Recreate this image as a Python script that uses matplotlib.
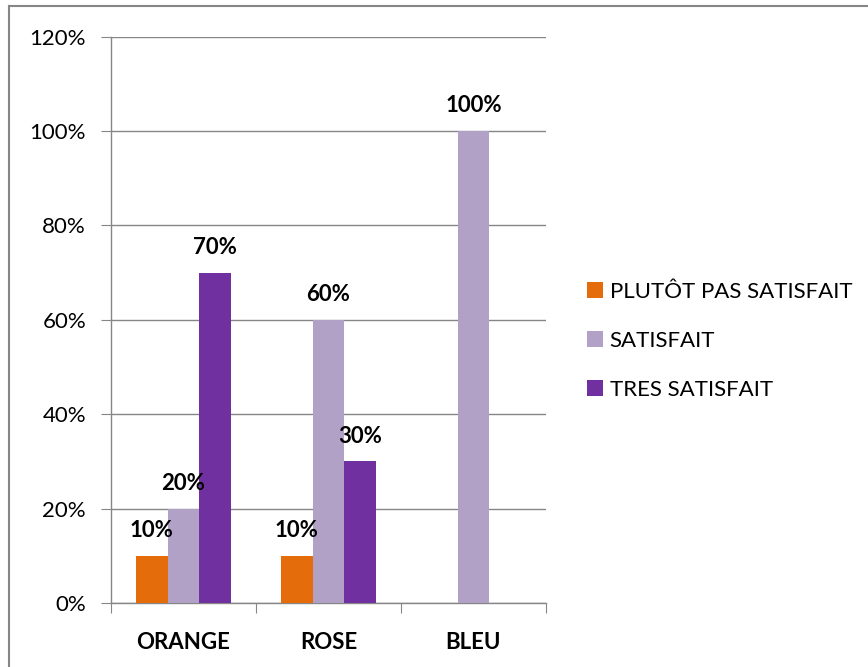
import numpy as np
import matplotlib
matplotlib.use("Agg")
from matplotlib import pyplot as plt
from matplotlib.lines import Line2D

# data
categories = ["ORANGE", "ROSE", "BLEU"]
series_names = ["PLUTÔT PAS SATISFAIT", "SATISFAIT", "TRES SATISFAIT"]
plutot_pas = [10, 10, 0]
satisfait = [20, 60, 100]
tres_satisfait = [70, 30, 0]
y_ticks = [0, 20, 40, 60, 80, 100, 120]

colors = ["#E46C0A", "#B2A1C7", "#7030A0"]
grid_col = "#868686"

plt.rcParams["font.family"] = ["Lato", "DejaVu Sans"]

fig = plt.figure(figsize=(8.68, 6.67), dpi=100)
ax = fig.add_axes([0.1279, 0.0960, 0.5011, 0.849])

# chart area border (only top and left visible in the crop)
fig.add_artist(Line2D([9 / 868, 1.0], [1 - 6 / 667, 1 - 6 / 667], transform=fig.transFigure,
                      color=grid_col, linewidth=1.5))
fig.add_artist(Line2D([9 / 868, 9 / 868], [0.0, 1 - 6 / 667], transform=fig.transFigure,
                      color=grid_col, linewidth=1.5))

x = np.arange(len(categories))
w = 0.22
all_series = [plutot_pas, satisfait, tres_satisfait]
for i, (vals, name) in enumerate(zip(all_series, series_names)):
    pos = x + (i - 1) * w
    ax.bar(pos, vals, width=w, color=colors[i], label=name, zorder=3)
    for p, v in zip(pos, vals):
        if v > 0:
            ax.text(p, v + 4, f"{v}%", ha="center", va="baseline",
                    fontsize=16, fontweight="bold", zorder=4)

ax.set_xlim(-0.5, 2.5)
ax.set_ylim(0, 120)
ax.set_yticks(y_ticks)
ax.set_yticklabels([f"{t}%" for t in y_ticks], fontsize=16)
ax.yaxis.grid(True, color=grid_col, linewidth=1.0, zorder=0)

ax.set_xticks([-0.5, 0.5, 1.5, 2.5])
ax.set_xticklabels([])
ax.set_xticks(x, minor=True)
ax.set_xticklabels(categories, minor=True, fontsize=16, fontweight="bold")
ax.tick_params(axis="x", which="major", length=7, color=grid_col, direction="out")
ax.tick_params(axis="x", which="minor", length=0, pad=21)
ax.tick_params(axis="y", length=7, color=grid_col, direction="out", pad=11)

for s in ["top", "right"]:
    ax.spines[s].set_visible(False)
for s in ["left", "bottom"]:
    ax.spines[s].set_color(grid_col)
    ax.spines[s].set_linewidth(1.0)

leg = fig.legend(loc="upper left", bbox_to_anchor=(0.676, 0.577), frameon=False,
                 fontsize=16, handlelength=0.73, handleheight=0.73,
                 handletextpad=0.3, labelspacing=1.3, borderpad=0, borderaxespad=0)

fig.savefig("out.png", dpi=100)
